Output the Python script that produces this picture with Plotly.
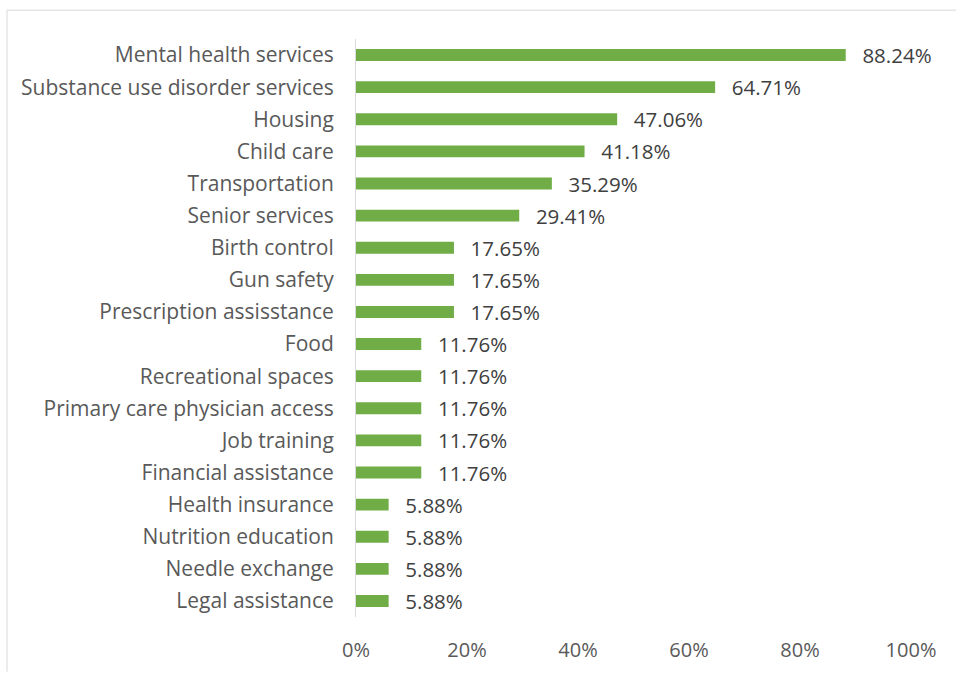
import plotly.graph_objects as go

categories = ["Mental health services", "Substance use disorder services", "Housing", "Child care",
              "Transportation", "Senior services", "Birth control", "Gun safety",
              "Prescription assisstance", "Food", "Recreational spaces", "Primary care physician access",
              "Job training", "Financial assistance", "Health insurance", "Nutrition education",
              "Needle exchange", "Legal assistance"]
values = [88.24, 64.71, 47.06, 41.18, 35.29, 29.41, 17.65, 17.65, 17.65, 11.76, 11.76, 11.76,
          11.76, 11.76, 5.88, 5.88, 5.88, 5.88]
tick_vals = [0, 0.2, 0.4, 0.6, 0.8, 1.0]
tick_text = ["0%", "20%", "40%", "60%", "80%", "100%"]

W, H = 956, 675
L, R, T, B = 356, 45, 39, 55
pw, ph = W - L - R, H - T - B

fig = go.Figure(go.Bar(
    y=categories, x=[v / 100 for v in values], orientation="h",
    marker=dict(color="#70AD47", line=dict(width=0)),
    text=["\u2002\u2009%.2f%%" % v for v in values], textposition="outside",
    constraintext="none",
    textfont=dict(size=20.5, color="#404040", family="Open Sans"),
    cliponaxis=False,
))

fig.update_layout(
    width=W, height=H, margin=dict(l=L, r=R, t=T, b=B),
    paper_bgcolor="white", plot_bgcolor="white",
    bargap=0.63, showlegend=False,
    font=dict(family="Open Sans", color="#595959", size=20),
    xaxis=dict(range=[0, 1], tickvals=tick_vals, ticktext=tick_text, showgrid=False,
               zeroline=False, showline=False, ticks="", ticklabelstandoff=19,
               tickfont=dict(size=20, color="#595959")),
    yaxis=dict(autorange="reversed", showline=True, linecolor="#d9d9d9", linewidth=1,
               ticks="", showgrid=False, ticklabelstandoff=17,
               tickfont=dict(size=21, color="#595959")),
    shapes=[
        dict(type="line", xref="paper", yref="paper",
             x0=(7 - L) / pw, x1=(W - L) / pw, y0=(H - B - 10) / ph, y1=(H - B - 10) / ph,
             line=dict(color="#d9d9d9", width=1)),
        dict(type="line", xref="paper", yref="paper",
             x0=(7 - L) / pw, x1=(7 - L) / pw, y0=(H - B - 10) / ph, y1=-B / ph,
             line=dict(color="#d9d9d9", width=1)),
    ],
)
fig.write_html("out.html", config={"displayModeBar": False},
               post_script="document.body.style.margin='0';")
